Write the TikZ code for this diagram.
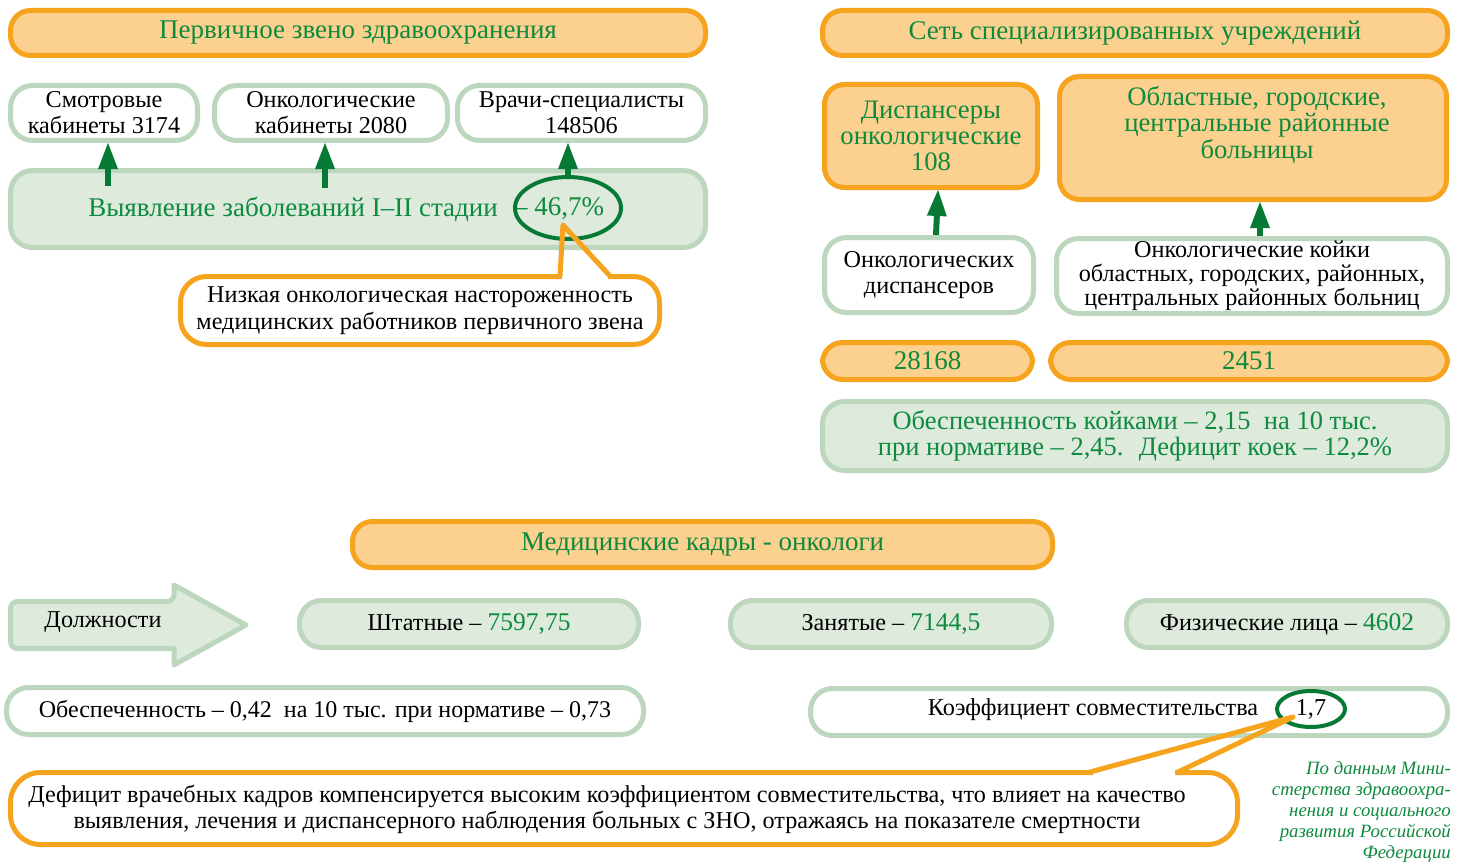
\documentclass[tikz,border=0pt]{standalone}
\usepackage{fontspec}
\setmainfont{Liberation Serif}
\usetikzlibrary{shapes.geometric, arrows.meta}

\definecolor{forange}{HTML}{FCD08F}
\definecolor{borange}{HTML}{F6A31E}
\definecolor{fgreen}{HTML}{DDEADC}
\definecolor{bgreen}{HTML}{BDD7BF}
\definecolor{tgreen}{HTML}{0D8A3E}
\definecolor{dgreen}{HTML}{067A35}

\newcommand\headfont{\fontsize{27}{28}\selectfont}
\newcommand\boxfont{\fontsize{24.2}{26}\selectfont}
\newcommand\numfont{\fontsize{25.5}{26}\selectfont}
\newcommand\bigfont{\fontsize{26.7}{26.3}\selectfont}
\newcommand\notefont{\fontsize{18.8}{21}\selectfont}

\tikzset{
  obox/.style={draw=borange, fill=forange, line width=5pt, rounded corners=20pt, text=tgreen, align=center, inner sep=0pt},
  wbox/.style={draw=bgreen, fill=white, line width=5pt, rounded corners=22pt, align=center, inner sep=0pt},
  gbox/.style={draw=bgreen, fill=fgreen, line width=5pt, rounded corners=22pt, align=center, inner sep=0pt},
  cbox/.style={draw=borange, fill=white, line width=5pt, rounded corners=26pt, align=center, inner sep=0pt},
  uparrow/.style={draw=dgreen, line width=6pt, -{Triangle[width=20pt, length=26pt, line width=0pt]}},
  ring/.style={ellipse, draw=dgreen, line width=4pt, inner sep=0pt},
  tail/.style={draw=borange, line width=5pt, line join=round, line cap=round},
}

\begin{document}
\begin{tikzpicture}[x=1pt, y=-1pt]
    \useasboundingbox (0,0) rectangle (1459,864);

    % primary care
    \node [obox, minimum width=695pt, minimum height=45pt, font=\headfont] (perv) at (358,33) {Первичное звено здравоохранения};
    \node [wbox, minimum width=187pt, minimum height=55pt, font=\boxfont] (smotr) at (104,113) {Смотровые\\кабинеты 3174};
    \node [wbox, minimum width=233pt, minimum height=55pt, font=\boxfont] (onkkab) at (331,113) {Онкологические\\кабинеты 2080};
    \node [wbox, minimum width=248pt, minimum height=55pt, font=\boxfont] (vrachi) at (581.5,113) {Врачи-специалисты\\148506};
    \node [gbox, minimum width=695pt, minimum height=77pt] (vyyav) at (358,209) {};
    \node [text=tgreen, font=\headfont, anchor=east, inner sep=0pt] (vyyavtxt) at (498,209) {Выявление заболеваний I–II стадии};
    \node [text=tgreen, font=\headfont, inner sep=0pt] (pcttxt) at (559,209) {– 46,7\%};
    \node [ring, minimum width=106pt, minimum height=62pt] (pct) at (568,208) {};

    \coordinate (a1) at (108,186);
    \coordinate (a2) at (325,188);
    \draw [uparrow] (a1) -- (a1 |- smotr.south);
    \draw [uparrow] (a2) -- (a2 |- onkkab.south);
    \draw [uparrow] (pct.north) -- (pct.north |- vrachi.south);

    \node [cbox, minimum width=479pt, minimum height=68pt, font=\fontsize{24.2}{27}\selectfont] (nizk) at (420,310.5) {Низкая онкологическая настороженность\\медицинских работников первичного звена};
    \coordinate (tip1) at (563,225);
    \fill [white] (562,272) rectangle (608,280);
    \draw [tail] (560,276) -- (tip1) -- (610,276);

    % specialised network
    \node [obox, minimum width=625pt, minimum height=45pt, font=\headfont] (set) at (1135,33) {Сеть специализированных учреждений};
    \node [obox, minimum width=213pt, minimum height=103pt, font=\bigfont] (disp) at (931,136) {Диспансеры\\онкологические\\108};
    \node [obox, minimum width=387pt, minimum height=123pt] (obl) at (1253,138) {};
    \node [text=tgreen, font=\bigfont, align=center, inner sep=0pt] (obltxt) at (1257,125) {Областные, городские,\\центральные районные\\больницы};
    \node [wbox, minimum width=209pt, minimum height=75pt, font=\boxfont] (dispw) at (929,275) {Онкологических\\диспансеров};
    \node [wbox, minimum width=391pt, minimum height=75pt, font=\fontsize{24.2}{24}\selectfont] (koiki) at (1252,276) {Онкологические койки\\областных, городских, районных,\\центральных районных больниц};
    \draw [uparrow] ([xshift=7pt]dispw.north) -- ([xshift=7pt]disp.south);
    \draw [uparrow] ([xshift=8pt]koiki.north) -- ([xshift=8pt]koiki.north |- obl.south);
    \node [obox, minimum width=210pt, minimum height=37pt, font=\headfont] (n1) at (927.5,361) {28168};
    \node [obox, minimum width=397pt, minimum height=37pt, font=\headfont] (n2) at (1249,361) {2451};
    \node [gbox, minimum width=625pt, minimum height=69pt, font=\fontsize{26.5}{26}\selectfont, text=tgreen] (koek) at (1135,436) {Обеспеченность койками – 2,15 \ на 10 тыс.\\при нормативе – 2,45. \ Дефицит коек – 12,2\%};

    % staff
    \node [obox, minimum width=700pt, minimum height=46pt, font=\headfont] (kadry) at (702.5,544.5) {Медицинские кадры - онкологи};
    \draw [draw=bgreen, fill=fgreen, line width=5pt, line join=round]
        (174,648.5) [rounded corners=7pt] -- (10.5,648.5) -- (10.5,601.5) -- (174,601.5) [sharp corners] -- (174,585) -- (246,625) -- (174,665) -- cycle;
    \node [font=\boxfont, inner sep=0pt] (dolzh) at (103,622) {Должности};
    \node [gbox, minimum width=339pt, minimum height=47pt, font=\boxfont] (shtat) at (469,624) {Штатные – {\color{tgreen}\numfont 7597,75}};
    \node [gbox, minimum width=321pt, minimum height=47pt, font=\boxfont] (zan) at (891,624) {Занятые – {\color{tgreen}\numfont 7144,5}};
    \node [gbox, minimum width=321pt, minimum height=47pt, font=\boxfont] (fiz) at (1287,624) {Физические лица – {\color{tgreen}\numfont 4602}};
    \node [wbox, minimum width=637pt, minimum height=47pt, font=\fontsize{24}{26}\selectfont] (obesp) at (325,711) {Обеспеченность – 0,42 \ на 10 тыс. при нормативе – 0,73};
    \node [wbox, minimum width=637pt, minimum height=47pt] (koef) at (1129,712) {};
    \node [font=\boxfont, inner sep=0pt] (koeftxt) at (1093,710) {Коэффициент совместительства};
    \node [ring, minimum width=68pt, minimum height=36pt, font=\boxfont] (sovm) at (1311,709) {1,7};

    \node [cbox, minimum width=1227pt, minimum height=72pt, rounded corners=30pt] (defic) at (624,808.5) {};
    \node [font=\boxfont, align=center, inner sep=0pt] (defictxt) at (607,809) {Дефицит врачебных кадров компенсируется высоким коэффициентом совместительства, что влияет на качество\\выявления, лечения и диспансерного наблюдения больных с ЗНО, отражаясь на показателе смертности};
    \coordinate (tip2) at (1293,717);
    \fill [white] (1093,768) rectangle (1175,776);
    \draw [tail] (1090,772) -- (tip2) -- (1178,772);

    \node [font=\notefont\itshape, text=tgreen, align=right, anchor=north east, inner sep=0pt] (src) at (1451,761) {По данным Мини-\\стерства здравоохра-\\нения и социального\\развития Российской\\Федерации};
\end{tikzpicture}
\end{document}
